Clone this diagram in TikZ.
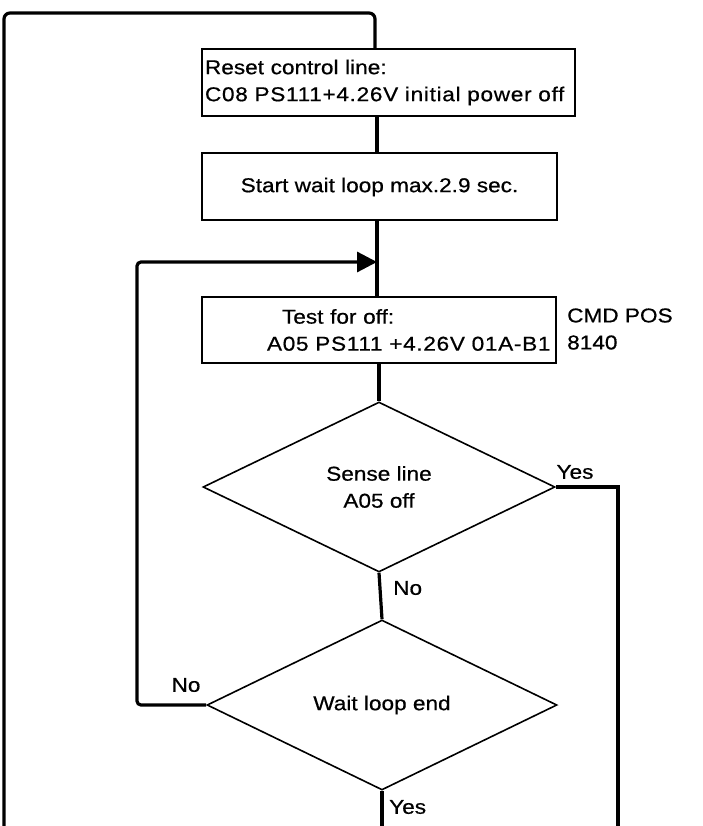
\documentclass[tikz,border=0pt]{standalone}
\usepackage{fontspec}
\setmainfont{Liberation Sans}[FakeStretch=1.13,FakeBold=0.6]
\newcommand{\widerline}[1]{{\addfontfeatures{LetterSpace=3.5}#1}}
\usetikzlibrary{shapes.geometric,arrows.meta}
\begin{document}
\begin{tikzpicture}[x=1pt,y=-1pt,
  every node/.style={font=\fontsize{20}{27}\selectfont},
  box/.style={draw,line width=2pt,rectangle,inner xsep=3pt,inner ysep=0pt},
  dec/.style={draw,line width=1.6pt,diamond,shape aspect=2,inner sep=0pt,align=center},
  flow/.style={draw,line width=3.2pt},
  lbl/.style={inner sep=0pt}]
\useasboundingbox (0,0) rectangle (702,826);
% boxes
\node[box,minimum width=373pt,minimum height=67pt,text width=367pt,align=left] (b1) at (388.5,82.5)
  {Reset control line:\\\widerline{C08 PS111+4.26V initial power off}};
\node[box,minimum width=355pt,minimum height=67pt,align=center] (b2) at (379.5,187)
  {Start wait loop max.2.9 sec.};
\node[box,minimum width=354pt,minimum height=66pt,text width=348pt,align=left] (b3) at (379,330)
  {\hspace*{77pt}Test for off:\\\hspace*{62pt}\widerline{A05 PS111 +4.26V 01A-B1}};
\node[lbl,anchor=west,align=left] (cmd) at (567,329) {CMD POS\\8140};
% decisions
\node[dec,minimum width=352pt,minimum height=170pt] (d1) at (379,487) {Sense line\\A05 off};
\node[dec,minimum width=350pt,minimum height=170pt] (d2) at (382,705) {Wait loop end};
% labels
\node[lbl] (y1) at (575,472) {Yes};
\node[lbl,anchor=west] (n1) at (393,588) {No};
\node[lbl] (n2) at (186,685) {No};
\node[lbl,anchor=west] (y2) at (389,807) {Yes};
% coordinates
\coordinate (bl) at (4,826);
\coordinate (tr) at (375,13);
\coordinate (m) at (377,0);
\coordinate (ar) at (377,262);
\coordinate (lp) at (137,262);
\coordinate (rb) at (618,826);
\coordinate (bm) at (382,826);
% connectors
\draw[flow,rounded corners=6pt] (bl) |- (tr) -- (b1.north -| tr);
\draw[flow] (b1.south -| m) -- (b2.north -| m);
\draw[flow] (b2.south -| m) -- (b3.north -| m);
\draw[flow,rounded corners=4pt,-{Triangle[length=20pt,width=20pt]}] (d2.west) -| (lp) -- (ar);
\draw[flow] (d1.north |- b3.south) -- (d1.north);
\draw[flow] (d1.south) -- (d2.north);
\draw[flow] (d1.east) -| (rb);
\draw[flow] (d2.south) -- (bm);
\end{tikzpicture}
\end{document}
